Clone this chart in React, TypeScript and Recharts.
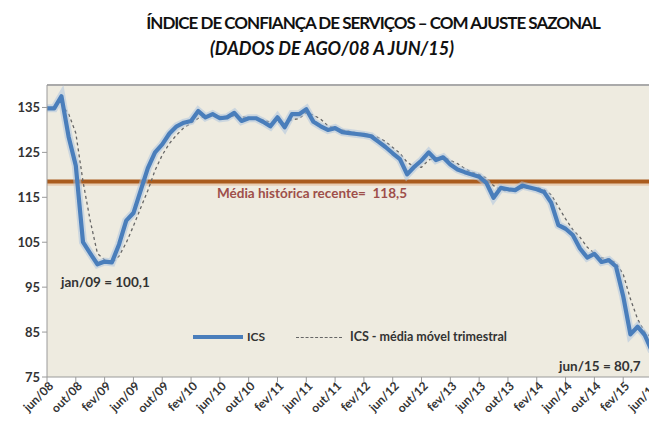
import React from 'react';
import { LineChart, Line, XAxis, YAxis, CartesianGrid, ReferenceLine } from 'recharts';

// months from jun/08 to jun/15
const months = [
  'jun/08', 'jul/08', 'ago/08', 'set/08', 'out/08', 'nov/08', 'dez/08',
  'jan/09', 'fev/09', 'mar/09', 'abr/09', 'mai/09', 'jun/09', 'jul/09', 'ago/09', 'set/09', 'out/09', 'nov/09', 'dez/09',
  'jan/10', 'fev/10', 'mar/10', 'abr/10', 'mai/10', 'jun/10', 'jul/10', 'ago/10', 'set/10', 'out/10', 'nov/10', 'dez/10',
  'jan/11', 'fev/11', 'mar/11', 'abr/11', 'mai/11', 'jun/11', 'jul/11', 'ago/11', 'set/11', 'out/11', 'nov/11', 'dez/11',
  'jan/12', 'fev/12', 'mar/12', 'abr/12', 'mai/12', 'jun/12', 'jul/12', 'ago/12', 'set/12', 'out/12', 'nov/12', 'dez/12',
  'jan/13', 'fev/13', 'mar/13', 'abr/13', 'mai/13', 'jun/13', 'jul/13', 'ago/13', 'set/13', 'out/13', 'nov/13', 'dez/13',
  'jan/14', 'fev/14', 'mar/14', 'abr/14', 'mai/14', 'jun/14', 'jul/14', 'ago/14', 'set/14', 'out/14', 'nov/14', 'dez/14',
  'jan/15', 'fev/15', 'mar/15', 'abr/15', 'mai/15', 'jun/15'
];

const ics = [
  134.8, 134.8, 137.5, 128.5, 122.0, 105.0, 102.5,
  100.1, 100.7, 100.5, 104.5, 109.8, 111.5, 116.5, 121.5, 125.0, 126.8, 129.2, 130.8,
  131.6, 132.0, 134.2, 132.8, 133.5, 132.6, 132.8, 133.8, 132.0, 132.6, 132.6, 131.8,
  130.8, 132.8, 130.6, 133.5, 133.5, 134.6, 131.8, 130.8, 130.0, 130.4, 129.5, 129.3,
  129.1, 128.9, 128.6, 127.4, 126.2, 124.8, 123.5, 120.1, 121.8, 123.2, 125.0, 123.3,
  123.9, 122.3, 121.2, 120.6, 120.1, 119.6, 118.2, 114.9, 117.1, 116.8, 116.6, 117.6,
  117.2, 116.8, 116.2, 113.8, 108.8, 108.0, 106.6, 103.6, 101.6, 102.4, 100.6, 101.0,
  99.6, 93.0, 84.5, 86.2, 84.3, 80.7
];

const icsMedia = [
  null, null, 135.7, 133.6, 129.3, 118.5, 109.8,
  102.5, 101.1, 100.4, 101.9, 104.9, 108.6, 112.6, 116.5, 121.0, 124.4, 127.0, 128.9,
  130.5, 131.5, 132.6, 133.0, 133.5, 133.0, 133.0, 133.1, 132.9, 132.8, 132.4, 132.3,
  131.7, 131.8, 131.4, 132.3, 132.5, 133.9, 133.3, 132.4, 130.9, 130.4, 130.0, 129.7,
  129.3, 129.1, 128.9, 128.3, 127.4, 126.1, 124.8, 122.8, 121.8, 121.7, 123.3, 123.8,
  124.1, 123.2, 122.5, 121.4, 120.6, 120.1, 119.3, 117.6, 116.7, 116.3, 116.8, 117.0,
  117.1, 117.2, 116.7, 115.6, 112.9, 110.2, 107.8, 106.1, 103.9, 102.5, 101.5, 101.3,
  100.4, 97.9, 92.4, 87.9, 85.0, 83.7
];

const yTicks = [75, 85, 95, 105, 115, 125, 135];
const mediaHistorica = 118.5;

const data = months.map((m, i) => ({ mes: m, ics: ics[i], media: icsMedia[i] }));

const font = 'Lato, "Open Sans", sans-serif';

const XTick = (props: any) => {
  const { x, y, payload } = props;
  return (
    <g transform={`translate(${x},${y})`}>
      <text x={3} y={7} textAnchor="end" transform="rotate(-45)" fontSize={12} fontWeight={700}
        fontFamily={font} fill="#333">
        {payload.value}
      </text>
    </g>
  );
};

const txt: React.CSSProperties = {
  position: 'absolute', fontFamily: font, fontWeight: 700, color: '#333', whiteSpace: 'nowrap', lineHeight: 1
};

export default function App() {
  return (
    <div style={{ position: 'fixed', left: 0, top: 0, width: 649, height: 428, overflow: 'hidden', background: '#fff' }}>
      <div style={{ ...txt, left: 0, width: 746, top: 14, textAlign: 'center', fontSize: 17, letterSpacing: -1, color: '#111' }}>
        ÍNDICE DE CONFIANÇA DE SERVIÇOS – COM AJUSTE SAZONAL
      </div>
      <div style={{ ...txt, left: 0, width: 664, top: 39, textAlign: 'center', fontSize: 18, fontStyle: 'italic', color: '#111' }}>
        (DADOS DE AGO/08 A JUN/15)
      </div>
      <div style={{ position: 'absolute', left: 0, top: 0 }}>
        <LineChart width={680} height={428} data={data} margin={{ top: 85, right: 28, bottom: 6, left: 0 }}>
          <CartesianGrid horizontal={false} vertical={false} fill="#EEEBE0" />
          <XAxis dataKey="mes" interval={3} height={45} tick={<XTick />} tickSize={5}
            axisLine={{ stroke: '#9A9A9A' }} tickLine={{ stroke: '#9A9A9A' }} padding={{ left: 0, right: 0 }} />
          <YAxis domain={[75, 140]} ticks={yTicks} width={47} allowDataOverflow tickSize={5}
            axisLine={{ stroke: '#9A9A9A' }} tickLine={{ stroke: '#9A9A9A' }}
            tick={{ fontSize: 13, fontWeight: 700, fill: '#333', fontFamily: font }} />
          <ReferenceLine y={140} stroke="#AAAAAA" strokeWidth={2} />
          <ReferenceLine y={mediaHistorica - 0.5} stroke="#E8CDB2" strokeWidth={4} />
          <ReferenceLine y={mediaHistorica} stroke="#AA5C1E" strokeWidth={4} />
          <Line type="linear" dataKey="media" stroke="#666" strokeWidth={1.3} strokeDasharray="3 3"
            dot={false} isAnimationActive={false} connectNulls={false} />
          <Line type="linear" dataKey="ics" stroke="#AFC5DF" strokeWidth={8} strokeOpacity={0.55}
            dot={false} isAnimationActive={false} />
          <Line type="linear" dataKey="ics" stroke="#4A7EBB" strokeWidth={4.2} strokeLinejoin="round"
            dot={false} isAnimationActive={false} />
        </LineChart>
      </div>
      <div style={{ ...txt, left: 217, top: 187, fontSize: 13.5, color: '#9E4F4A' }}>
        Média histórica recente=&nbsp; 118,5
      </div>
      <div style={{ ...txt, left: 61, top: 276, fontSize: 13.5 }}>jan/09 = 100,1</div>
      <div style={{ ...txt, left: 559, top: 360, fontSize: 13.5 }}>jun/15 = 80,7</div>
      <div style={{ position: 'absolute', left: 193, top: 335, width: 50, height: 4, background: '#4A7EBB' }} />
      <div style={{ ...txt, left: 247, top: 331, fontSize: 12 }}>ICS</div>
      <div style={{ position: 'absolute', left: 296, top: 337, width: 46, borderTop: '1.3px dashed #666' }} />
      <div style={{ ...txt, left: 350, top: 331, fontSize: 12.5 }}>ICS - média móvel trimestral</div>
    </div>
  );
}
